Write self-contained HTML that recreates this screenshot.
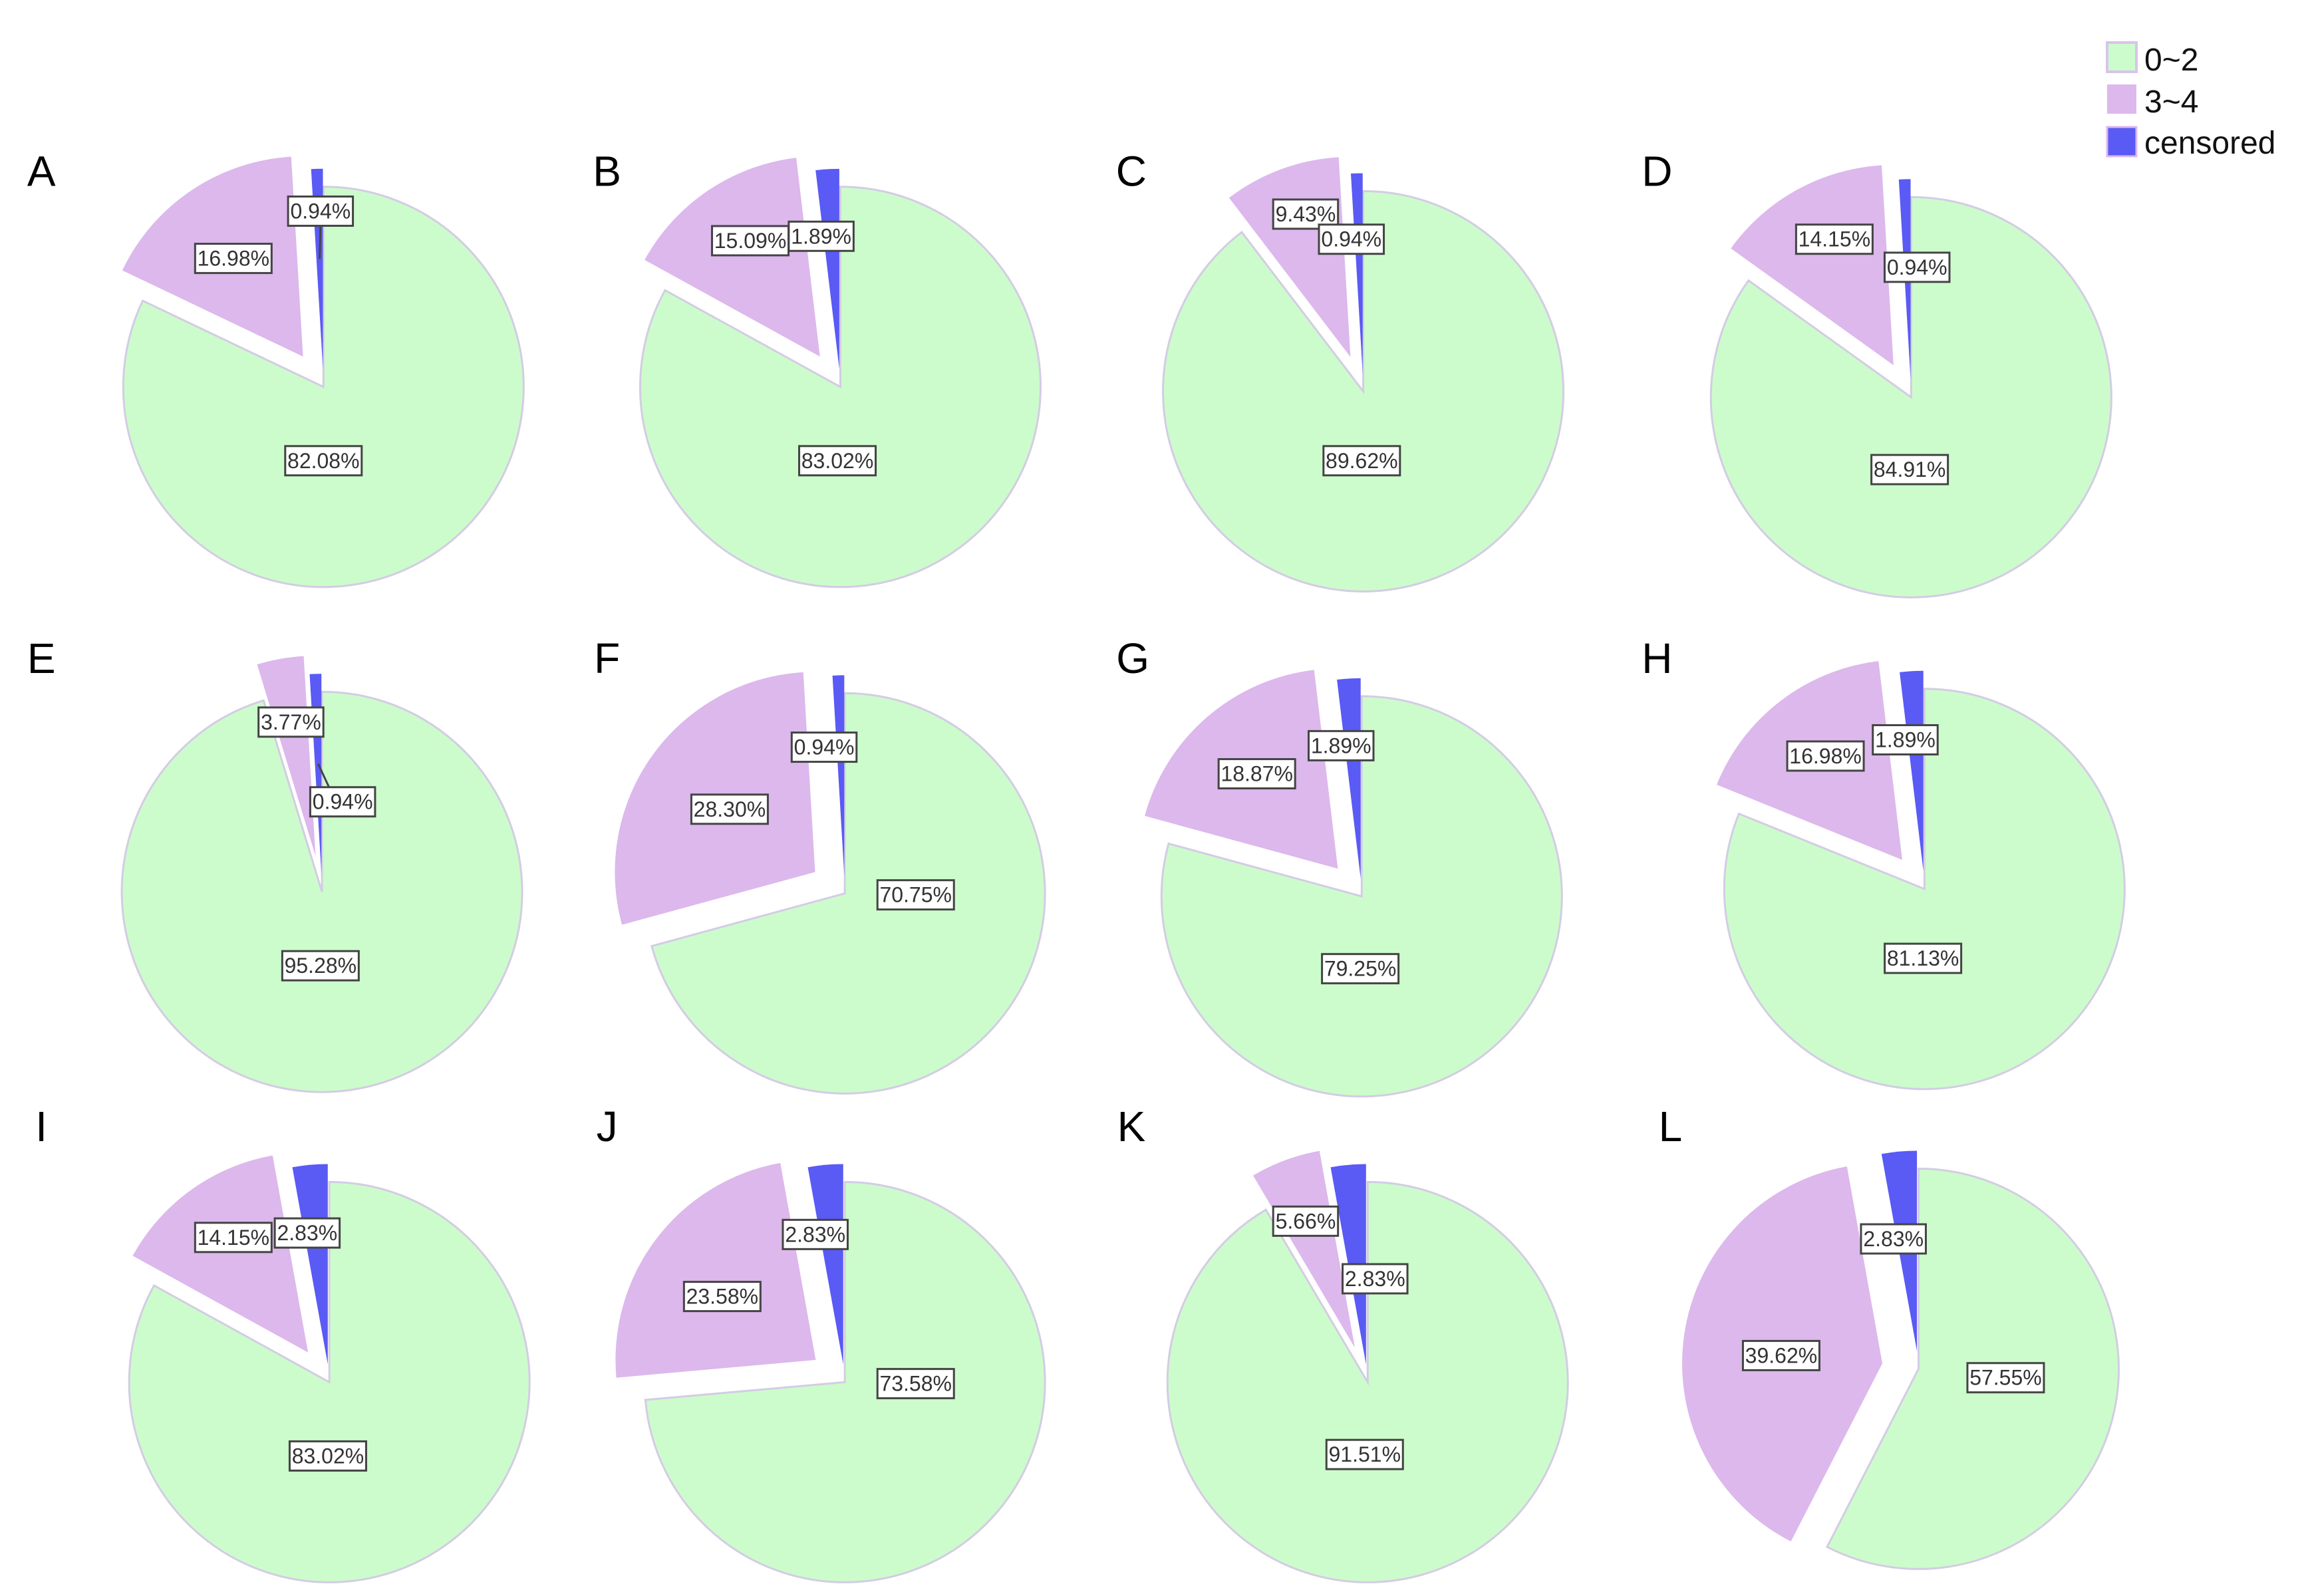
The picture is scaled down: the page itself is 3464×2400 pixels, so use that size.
<!DOCTYPE html>
<html><head><meta charset="utf-8"><style>
html,body{margin:0;padding:0;background:#fff;}
svg{display:block;}
</style></head><body>
<svg id="chart" width="3464" height="2400" viewBox="0 0 3464 2400" xmlns="http://www.w3.org/2000/svg" font-family="Liberation Sans, Arial, sans-serif">
  <g>
    <rect x="3168" y="64" width="44" height="44" fill="#ccfccc" stroke="#d8c4ec" stroke-width="4"/>
    <text x="3224" y="106" font-size="48" fill="#111">0~2</text>
    <rect x="3168" y="127" width="44" height="44" fill="#dcb8ec"/>
    <text x="3224" y="169" font-size="48" fill="#111">3~4</text>
    <rect x="3168" y="191" width="44" height="44" fill="#5a5af5" stroke="#dcb8ec" stroke-width="3"/>
    <text x="3224" y="231" font-size="48" fill="#111">censored</text>
  </g>
</svg>
<script>
const panels = ['A','B','C','D','E','F','G','H','I','J','K','L'];
const green  = [82.08, 83.02, 89.62, 84.91, 95.28, 70.75, 79.25, 81.13, 83.02, 73.58, 91.51, 57.55];
const purple = [16.98, 15.09,  9.43, 14.15,  3.77, 28.30, 18.87, 16.98, 14.15, 23.58,  5.66, 39.62];
const blue   = [ 0.94,  1.89,  0.94,  0.94,  0.94,  0.94,  1.89,  1.89,  2.83,  2.83,  2.83,  2.83];

// layout (display coords, scaled by S)
const S = 3464/1560;
const centers = [[219,262],[569,262],[923,265],[1294,269],[218,604],[572,605],[922,607],[1303,602],[223,936],[572,936],[926,936],[1299,927]];
const letterPos = [[28,115],[411,115],[766,115],[1122,115],[28,445],[411,445],[767,445],[1122,445],[28,762],[411,762],[766,762],[1131,762]];
const gLab = [[219,312],[567,312],[922,312],[1293,318],[217,654],[620,606],[921,656],[1302,649],[222,986],[620,937],[924,985],[1358,933]];
const pLab = [[158,175],[508,163],[884,145],[1242,162],[197,489],[494,548],[851,524],[1236,512],[158,838],[489,878],[884,827],[1206,918]];
const bLab = [[217,143],[556,160],[915,162],[1298,181],[232,543],[558,506],[908,505],[1290,501],[208,835],[552,836],[931,866],[1282,839]];
const R = 301, PUR_OFF = 55, BLU_OFF = 27;

const svg = document.getElementById('chart');
const NS = 'http://www.w3.org/2000/svg';
function mk(tag, attrs){ const e=document.createElementNS(NS,tag); for(const k in attrs) e.setAttribute(k,attrs[k]); return e; }
function pt(cx,cy,r,frac){ const a=frac*2*Math.PI; return [cx+r*Math.sin(a), cy-r*Math.cos(a)]; }
function slicePath(cx,cy,r,f0,f1){
  const p0=pt(cx,cy,r,f0), p1=pt(cx,cy,r,f1);
  const large=(f1-f0)>0.5?1:0;
  return `M${cx},${cy} L${p0[0]},${p0[1]} A${r},${r} 0 ${large} 1 ${p1[0]},${p1[1]} Z`;
}
function label(g, x, y, txt, name){
  const t = mk('text',{x:x,y:y+11,'font-size':32,'text-anchor':'middle',fill:'#333'});
  t.textContent = txt;
  const w = txt.length*17.5+10;
  const r = mk('rect',{x:x-w/2,y:y-22,width:w,height:44,fill:'#fff',stroke:'#444','stroke-width':3});
  
  
  
  
  g.appendChild(r); g.appendChild(t);
}

panels.forEach((p,i)=>{
  const g = mk('g',{});
  
  
  const cx=centers[i][0]*S, cy=centers[i][1]*S;
  const tot = green[i]+purple[i]+blue[i];
  const fg = green[i]/tot, fp = purple[i]/tot;
  const gs = mk('path',{d:slicePath(cx,cy,R,0,fg),fill:'#ccfccc',stroke:'#d4cce4','stroke-width':3});
  
  
  g.appendChild(gs);
  const mp = fg+fp/2, dp = pt(0,0,PUR_OFF,mp);
  const ps = mk('path',{d:slicePath(cx+dp[0],cy+dp[1],R,fg,fg+fp),fill:'#dcb8ec'});
  
  
  g.appendChild(ps);
  const mb = fg+fp+(1-fg-fp)/2, db = pt(0,0,BLU_OFF,mb);
  const bs = mk('path',{d:slicePath(cx+db[0],cy+db[1],R,fg+fp,1),fill:'#5a5af5'});
  
  
  g.appendChild(bs);
  if (p==='A' || p==='E'){
    const lx=bLab[i][0]*S, ly=bLab[i][1]*S+22;
    const tp = pt(cx+db[0],cy+db[1],R*0.55,mb);
    const ln = mk('line',{x1:lx,y1:ly,x2:tp[0],y2:tp[1],stroke:'#444','stroke-width':3});
    
    
    g.appendChild(ln);
  }
  label(g, gLab[i][0]*S, gLab[i][1]*S, green[i].toFixed(2)+'%', 'label-0-2-'+p.toLowerCase());
  label(g, pLab[i][0]*S, pLab[i][1]*S, purple[i].toFixed(2)+'%', 'label-3-4-'+p.toLowerCase());
  label(g, bLab[i][0]*S, bLab[i][1]*S, blue[i].toFixed(2)+'%', 'label-censored-'+p.toLowerCase());
  const lt = mk('text',{x:letterPos[i][0]*S,y:letterPos[i][1]*S+24,'font-size':64,'text-anchor':'middle',fill:'#000'});
  lt.textContent = p;
  
  
  g.appendChild(lt);
  svg.appendChild(g);
});
</script>
</body></html>
